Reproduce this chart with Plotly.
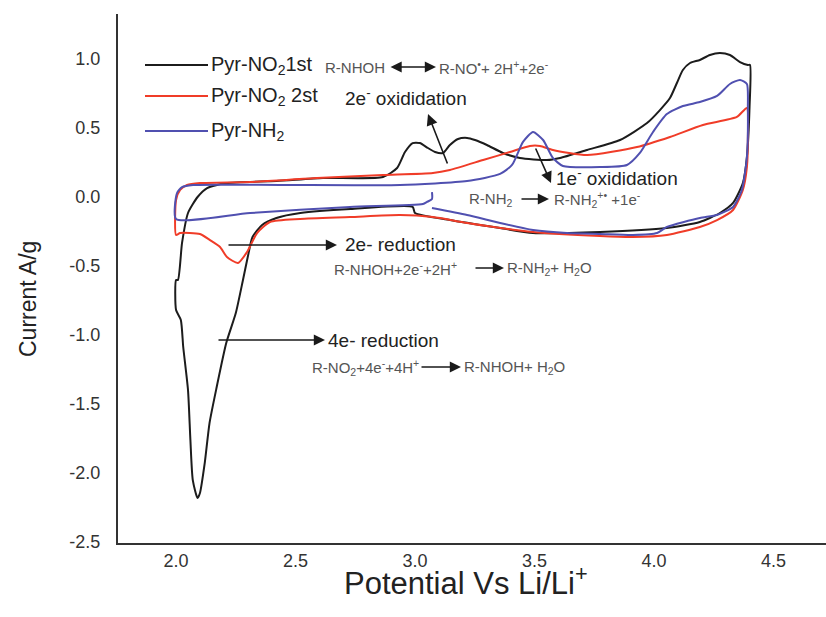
import plotly.graph_objects as go

# ---------------- data ----------------
# Pyr-NO2 1st cycle (potential V vs Li/Li+, current A/g)
no2_1st_v = [2.99, 2.73, 2.52, 2.42, 2.36, 2.32, 2.30, 2.28, 2.25, 2.21, 2.17, 2.14, 2.12, 2.10, 2.09,
             2.07, 2.06, 2.05, 2.03, 2.02, 2.00, 2.00, 2.008, 2.025, 2.05, 2.09, 2.13, 2.21, 2.42, 2.615,
             2.866, 2.925, 2.958, 2.99, 3.02, 3.054, 3.084, 3.117, 3.146, 3.18, 3.218, 3.251, 3.301, 3.368,
             3.439, 3.552, 3.607, 3.72, 3.858, 3.971, 4.025, 4.067, 4.096, 4.121, 4.151, 4.192, 4.234,
             4.276, 4.318, 4.36, 4.393, 4.402, 4.40, 4.389, 4.372, 4.331, 4.276, 4.192, 4.054, 3.774,
             3.494, 3.356, 3.146, 3.00, 2.99]
no2_1st_i = [-0.072, -0.087, -0.116, -0.152, -0.203, -0.290, -0.435, -0.601, -0.841, -1.058, -1.377,
             -1.638, -1.928, -2.145, -2.181, -2.051, -1.761, -1.399, -1.087, -0.891, -0.819, -0.601,
             -0.601, -0.333, -0.116, 0.0, 0.065, 0.101, 0.116, 0.138, 0.145, 0.21, 0.326, 0.391, 0.391,
             0.355, 0.326, 0.319, 0.377, 0.42, 0.428, 0.413, 0.377, 0.319, 0.283, 0.268, 0.283, 0.341,
             0.413, 0.536, 0.63, 0.717, 0.826, 0.92, 0.971, 0.993, 1.029, 1.043, 1.029, 0.978, 0.957,
             0.957, 0.652, 0.29, 0.101, -0.043, -0.116, -0.181, -0.225, -0.254, -0.261, -0.225, -0.167,
             -0.116, -0.072]

# Pyr-NO2 2nd cycle
no2_2nd_v = [2.00, 2.00, 2.017, 2.046, 2.10, 2.31, 2.59, 2.866, 3.075, 3.146, 3.285, 3.397, 3.481,
             3.523, 3.577, 3.72, 3.929, 4.067, 4.205, 4.347, 4.389, 4.393, 4.389, 4.372, 4.331, 4.264,
             4.192, 4.054, 3.912, 3.774, 3.494, 3.218, 3.075, 2.937, 2.728, 2.519, 2.393, 2.339, 2.297,
             2.259, 2.213, 2.184, 2.142, 2.10, 2.017, 2.00]
no2_2nd_i = [-0.275, -0.022, 0.051, 0.087, 0.101, 0.109, 0.138, 0.159, 0.174, 0.196, 0.268, 0.326,
             0.370, 0.370, 0.341, 0.304, 0.362, 0.435, 0.522, 0.580, 0.645, 0.413, 0.217, 0.051, -0.094,
             -0.167, -0.217, -0.275, -0.290, -0.283, -0.254, -0.188, -0.145, -0.130, -0.145, -0.159,
             -0.181, -0.261, -0.399, -0.478, -0.435, -0.362, -0.312, -0.268, -0.261, -0.275]

# Pyr-NH2
nh2_v = [3.071, 3.071, 3.05, 3.033, 2.728, 2.31, 2.00, 2.004, 2.025, 2.071, 2.448, 2.937, 3.218, 3.356,
         3.406, 3.452, 3.494, 3.536, 3.577, 3.619, 3.774, 3.887, 3.941, 3.996, 4.054, 4.121, 4.192,
         4.264, 4.318, 4.36, 4.389, 4.393, 4.389, 4.368, 4.331, 4.264, 4.192, 4.054, 4.013, 3.912,
         3.774, 3.636, 3.494, 3.356, 3.218, 3.071]
nh2_i = [0.036, -0.014, -0.036, -0.051, -0.072, -0.116, -0.159, 0.029, 0.072, 0.087, 0.087, 0.087,
         0.116, 0.167, 0.232, 0.399, 0.471, 0.413, 0.283, 0.225, 0.217, 0.232, 0.319, 0.471, 0.601,
         0.659, 0.688, 0.732, 0.819, 0.848, 0.819, 0.652, 0.290, 0.051, -0.072, -0.130, -0.152, -0.217,
         -0.261, -0.275, -0.268, -0.261, -0.239, -0.188, -0.130, -0.080]

series_names = ["Pyr-NO<sub>2</sub>1st", "Pyr-NO<sub>2</sub> 2st", "Pyr-NH<sub>2</sub>"]
series_colors = ["#1c1c1c", "#f03c28", "#5050b0"]

x_ticks = [2.0, 2.5, 3.0, 3.5, 4.0, 4.5]
y_ticks = [-2.5, -2.0, -1.5, -1.0, -0.5, 0.0, 0.5, 1.0]

# ---------------- layout geometry ----------------
W, H = 826, 617
L, T, PW, PH = 118, 14, 708, 529
XR = [1.757, 4.720]
YR = [-2.507, 1.326]


def dx(px):
    return XR[0] + (px - L) / PW * (XR[1] - XR[0])


def dy(py):
    return YR[1] - (py - T) / PH * (YR[1] - YR[0])


FONT = "Liberation Sans, Arial, sans-serif"

fig = go.Figure()
for v, i, name, col in zip([no2_1st_v, no2_2nd_v, nh2_v], [no2_1st_i, no2_2nd_i, nh2_i],
                           series_names, series_colors):
    fig.add_trace(go.Scatter(x=v, y=i, mode="lines", name=name,
                             line=dict(color=col, width=2, shape="spline", smoothing=0.6),
                             showlegend=False))

annotations = []
shapes = []


def text(px, py, s, size, color="#222", anchor="left"):
    annotations.append(dict(x=dx(px), y=dy(py), xref="x", yref="y", text=s, showarrow=False,
                            xanchor=anchor, yanchor="middle",
                            font=dict(family=FONT, size=size, color=color)))


def arrow(x0, y0, x1, y1, both=False, width=1.6):
    annotations.append(dict(x=dx(x1), y=dy(y1), ax=dx(x0), ay=dy(y0), xref="x", yref="y",
                            axref="x", ayref="y", text="", showarrow=True, arrowhead=2,
                            arrowsize=1.4, arrowwidth=width, arrowcolor="#1a1a1a",
                            arrowside="end+start" if both else "end", startarrowhead=2,
                            startarrowsize=1.4))


# custom legend
for k, (name, col) in enumerate(zip(series_names, series_colors)):
    ly = [65, 96, 131][k]
    shapes.append(dict(type="line", xref="x", yref="y", x0=dx(145), x1=dx(208), y0=dy(ly), y1=dy(ly),
                       line=dict(color=col, width=2)))
    text(209, ly, name, 20, "#222")

# oxidation annotations
text(323, 67, "R-NHOH", 15, "#555")
arrow(389, 67, 436, 67, both=True)
text(437, 67, "R-NO<sup>•</sup>+ 2H<sup>+</sup>+2e<sup>-</sup>", 15, "#555")
text(343, 97, "2e<sup>-</sup> oxididation", 19)
arrow(448, 165, 428, 114)

text(554, 177, "1e<sup>-</sup> oxididation", 19)
arrow(535, 147, 551, 183)
text(467, 199, "R-NH<sub>2</sub>", 15, "#555")
arrow(520, 199, 549, 199)
text(552, 199, "R-NH<sub>2</sub><sup>+•</sup> +1e<sup>-</sup>", 15, "#555")

# reduction annotations
arrow(227, 245, 337, 245)
text(343, 244, "2e- reduction", 19)
text(332, 268, "R-NHOH+2e<sup>-</sup>+2H<sup>+</sup>", 15, "#555")
arrow(474, 268, 504, 268)
text(505, 268, "R-NH<sub>2</sub>+ H<sub>2</sub>O", 15, "#555")

arrow(217, 340, 325, 340)
text(326, 340, "4e- reduction", 19)
text(310, 367, "R-NO<sub>2</sub>+4e<sup>-</sup>+4H<sup>+</sup>", 15, "#555")
arrow(420, 367, 461, 367)
text(462, 367, "R-NHOH+ H<sub>2</sub>O", 15, "#555")

# axis titles
annotations.append(dict(x=(28 - L) / PW, y=(T + PH - 299) / PH, xref="paper", yref="paper",
                        xanchor="center", yanchor="middle",
                        text="Current A/g", showarrow=False, textangle=-90,
                        font=dict(family=FONT, size=23, color="#222")))
annotations.append(dict(x=(466 - L) / PW, y=(T + PH - 581) / PH, xref="paper", yref="paper",
                        xanchor="center", yanchor="middle",
                        text="Potential Vs Li/Li<sup>+</sup>", showarrow=False,
                        font=dict(family=FONT, size=31, color="#222")))

fig.update_layout(
    width=W, height=H,
    margin=dict(l=L, r=W - L - PW, t=T, b=H - T - PH),
    paper_bgcolor="white", plot_bgcolor="white",
    showlegend=False,
    annotations=annotations, shapes=shapes,
    font=dict(family=FONT),
)
fig.update_xaxes(range=XR, tickvals=x_ticks, ticktext=[f"{t:.1f}" for t in x_ticks],
                 showgrid=False, zeroline=False, showline=True, linecolor="#333", linewidth=2,
                 ticks="", ticklen=0, ticklabelstandoff=0,
                 tickfont=dict(family=FONT, size=18, color="#333"))
fig.update_yaxes(range=YR, tickvals=y_ticks, ticktext=[f"{t:.1f}" for t in y_ticks],
                 showgrid=False, zeroline=False, showline=True, linecolor="#333", linewidth=2,
                 ticks="", ticklen=0, ticklabelstandoff=12,
                 tickfont=dict(family=FONT, size=18, color="#333"))

fig.write_html("out.html")
